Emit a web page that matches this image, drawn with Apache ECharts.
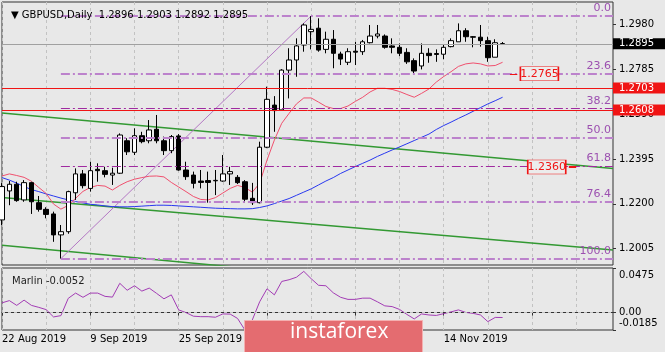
<!DOCTYPE html>
<html>
<head>
<meta charset="utf-8">
<script src="https://cdn.jsdelivr.net/npm/echarts@6/dist/echarts.min.js"></script>
<style>
  html, body { margin: 0; padding: 0; background: #e8e8e8; }
  #chart { width: 665px; height: 352px; }
</style>
</head>
<body>
<div id="chart"></div>
<script>
const dates = ['22 Aug 2019','23 Aug 2019','26 Aug 2019','27 Aug 2019','28 Aug 2019','29 Aug 2019','30 Aug 2019',
  '2 Sep 2019','3 Sep 2019','4 Sep 2019','5 Sep 2019','6 Sep 2019','9 Sep 2019','10 Sep 2019','11 Sep 2019','12 Sep 2019',
  '13 Sep 2019','16 Sep 2019','17 Sep 2019','18 Sep 2019','19 Sep 2019','20 Sep 2019','23 Sep 2019','24 Sep 2019',
  '25 Sep 2019','26 Sep 2019','27 Sep 2019','30 Sep 2019','1 Oct 2019','2 Oct 2019','3 Oct 2019','4 Oct 2019',
  '7 Oct 2019','8 Oct 2019','9 Oct 2019','10 Oct 2019','11 Oct 2019','14 Oct 2019','15 Oct 2019','16 Oct 2019',
  '17 Oct 2019','18 Oct 2019','21 Oct 2019','22 Oct 2019','23 Oct 2019','24 Oct 2019','25 Oct 2019','28 Oct 2019',
  '29 Oct 2019','30 Oct 2019','31 Oct 2019','1 Nov 2019','4 Nov 2019','5 Nov 2019','6 Nov 2019','7 Nov 2019',
  '8 Nov 2019','11 Nov 2019','12 Nov 2019','13 Nov 2019','14 Nov 2019','15 Nov 2019','18 Nov 2019','19 Nov 2019',
  '20 Nov 2019','21 Nov 2019','22 Nov 2019','25 Nov 2019','26 Nov 2019'];
const emptySlots = 15; // free space on the right of the last bar

const opens  = [1.2130,1.2256,1.2285,1.2217,1.2292,1.2205,1.2176,1.2156,1.2065,1.2079,1.2248,1.2330,1.2267,1.2350,1.2344,1.2325,
  1.2333,1.2474,1.2424,1.2496,1.2474,1.2524,1.2474,1.2431,1.2495,1.2347,1.2325,1.2299,1.2301,1.2300,1.2299,1.2330,
  1.2315,1.2296,1.2224,1.2205,1.2446,1.2629,1.2608,1.2781,1.2825,1.2890,1.2948,1.2963,1.2871,1.2915,1.2851,1.2815,
  1.2863,1.2861,1.2900,1.2929,1.2929,1.2886,1.2880,1.2858,1.2822,1.2799,1.2854,1.2853,1.2850,1.2883,1.2904,1.2952,
  1.2926,1.2924,1.2909,1.2837,1.2896];
const closes = [1.2275,1.2285,1.2214,1.2292,1.2209,1.2176,1.2154,1.2065,1.2079,1.2253,1.2330,1.2279,1.2344,1.2344,1.2328,1.2333,
  1.2499,1.2426,1.2496,1.2470,1.2521,1.2474,1.2431,1.2492,1.2347,1.2318,1.2289,1.2293,1.2293,1.2302,1.2330,1.2340,
  1.2292,1.2220,1.2205,1.2446,1.2654,1.2605,1.2781,1.2825,1.2886,1.2977,1.2958,1.2868,1.2915,1.2854,1.2829,1.2861,
  1.2859,1.2904,1.2929,1.2938,1.2880,1.2880,1.2854,1.2817,1.2777,1.2854,1.2844,1.2849,1.2880,1.2909,1.2952,1.2926,
  1.2924,1.2909,1.2835,1.2900,1.2895];
const lows   = [1.2108,1.2194,1.2209,1.2209,1.2156,1.2166,1.2137,1.2035,1.1962,1.2070,1.2217,1.2267,1.2253,1.2296,1.2315,1.2282,
  1.2330,1.2412,1.2412,1.2463,1.2463,1.2463,1.2412,1.2420,1.2344,1.2304,1.2267,1.2267,1.2205,1.2238,1.2296,1.2282,
  1.2286,1.2205,1.2195,1.2202,1.2442,1.2513,1.2605,1.2658,1.2752,1.2861,1.2871,1.2861,1.2854,1.2789,1.2803,1.2803,
  1.2803,1.2847,1.2897,1.2919,1.2874,1.2854,1.2842,1.2808,1.2767,1.2784,1.2813,1.2817,1.2828,1.2880,1.2904,1.2904,
  1.2880,1.2883,1.2817,1.2837,1.2892];
const highs  = [1.2290,1.2299,1.2296,1.2303,1.2296,1.2234,1.2185,1.2166,1.2108,1.2257,1.2354,1.2347,1.2383,1.2376,1.2361,1.2357,
  1.2506,1.2485,1.2528,1.2513,1.2564,1.2586,1.2492,1.2499,1.2503,1.2383,1.2340,1.2347,1.2340,1.2347,1.2412,1.2361,
  1.2325,1.2303,1.2291,1.2470,1.2709,1.2668,1.2785,1.2876,1.2919,1.2984,1.3016,1.3006,1.2948,1.2955,1.2861,1.2876,
  1.2904,1.2912,1.2977,1.2977,1.2936,1.2919,1.2897,1.2876,1.2832,1.2897,1.2876,1.2871,1.2890,1.2919,1.2984,1.2963,
  1.2929,1.2977,1.2926,1.2915,1.2903];

const fastMa = [1.2321,1.2330,1.2323,1.2315,1.2298,1.2271,1.2245,1.2199,1.2177,1.2193,1.2224,1.2254,1.2271,1.2280,1.2277,1.2260,
  1.2280,1.2296,1.2307,1.2314,1.2320,1.2321,1.2317,1.2293,1.2273,1.2253,1.2232,1.2219,1.2217,1.2227,1.2247,1.2267,
  1.2280,1.2271,1.2251,1.2289,1.2390,1.2477,1.2550,1.2593,1.2634,1.2660,1.2660,1.2642,1.2623,1.2614,1.2614,1.2625,
  1.2645,1.2663,1.2686,1.2702,1.2702,1.2697,1.2688,1.2675,1.2663,1.2680,1.2699,1.2729,1.2753,1.2774,1.2797,1.2808,
  1.2812,1.2808,1.2799,1.2801,1.2815];
const slowMa = [1.2314,1.2303,1.2290,1.2275,1.2262,1.2253,1.2243,1.2234,1.2225,1.2217,1.2210,1.2204,1.2198,1.2195,1.2191,1.2188,
  1.2187,1.2187,1.2188,1.2190,1.2192,1.2194,1.2194,1.2193,1.2191,1.2189,1.2187,1.2185,1.2183,1.2181,1.2180,1.2179,
  1.2178,1.2178,1.2179,1.2184,1.2191,1.2201,1.2212,1.2223,1.2237,1.2251,1.2265,1.2282,1.2299,1.2314,1.2332,1.2347,
  1.2362,1.2376,1.2390,1.2406,1.2420,1.2434,1.2447,1.2461,1.2475,1.2489,1.2503,1.2523,1.2540,1.2555,1.2571,1.2586,
  1.2602,1.2618,1.2634,1.2648,1.2663];
const marlin = [0.0104,0.0128,0.0077,0.0133,0.0077,0.0056,0.0032,-0.0046,-0.0032,0.0152,0.0208,0.0163,0.0208,0.0208,0.0173,0.0165,
  0.0312,0.0238,0.0286,0.0229,0.0261,0.0205,0.0147,0.0189,0.0029,0.0000,-0.0038,-0.0043,-0.0043,-0.0049,-0.0014,-0.0016,
  -0.0062,-0.0185,-0.0078,0.0115,0.0254,0.0189,0.0332,0.0350,0.0377,0.0439,0.0361,0.0291,0.0286,0.0211,0.0163,0.0141,
  0.0141,0.0154,0.0154,0.0115,0.0072,0.0064,0.0034,-0.0019,-0.0067,-0.0014,-0.0025,-0.0030,-0.0011,0.0008,0.0029,0.0002,
  -0.0008,-0.0025,-0.0096,-0.0051,-0.0052];

const priceTicks = [1.2980, 1.2785, 1.2590, 1.2395, 1.2200, 1.2005];
const marlinTicks = [0.0475, 0, -0.0185];
const fibLevels = [0, 23.6, 38.2, 50, 61.8, 76.4, 100];
const fibLow = 1.1962, fibHigh = 1.3016;
const fibFrom = 8, fibTo = 42;      // bars of the swing low / high
const bidPrice = 1.2895;
const redLevels = [1.2703, 1.2608];
const priceTags = [1.2765, 1.2360];
// channel lines: value at first slot and at last slot
const channels = [[1.2595, 1.2354], [1.2227, 1.1999], [1.2020, 1.1771]];

const cats = dates.concat(new Array(emptySlots).fill(''));
const last = cats.length - 1;
const candles = opens.map((o, i) => [o, closes[i], lows[i], highs[i]]);

const chart = echarts.init(document.getElementById('chart'));
const FONT = 'DejaVu Sans';
const gridLine = { show: true, interval: 5, lineStyle: { color: '#c2c2c2', type: [3, 3], width: 1 } };

const fibLines = fibLevels.map(l => {
  const p = fibHigh - (fibHigh - fibLow) * l / 100;
  const dark = l === 38.2 || l === 61.8;
  return [{
    coord: [fibFrom, p], name: l.toFixed(1),
    lineStyle: { color: dark ? '#a02aa0' : '#bc82cc', width: dark ? 1 : 2, type: [9, 3, 2, 3] },
    label: { show: true, position: 'insideEndTop', distance: 2, formatter: '{b}', color: '#9c50b0', fontSize: 11, fontFamily: FONT }
  }, { coord: [last, p] }];
});

const sideLabel = (v, bg) => ({
  show: true, position: 'end', distance: 0, formatter: v.toFixed(4),
  backgroundColor: bg, color: '#fff', padding: [1, 12, 0, 6], fontSize: 10, fontFamily: FONT
});

const option = {
  animation: false,
  backgroundColor: '#e8e8e8',
  textStyle: { fontFamily: FONT },
  title: [
    { text: '\u25BC GBPUSD,Daily  1.2896 1.2903 1.2892 1.2895', left: 6, top: 5,
      textStyle: { fontSize: 10, fontWeight: 'normal', color: '#000', fontFamily: FONT } },
    { text: 'Marlin -0.0052', left: 7, top: 271,
      textStyle: { fontSize: 10, fontWeight: 'normal', color: '#222', fontFamily: FONT } }
  ],
  grid: [
    { left: 2, top: 2, width: 611, height: 263, show: true, borderColor: '#333', borderWidth: 1, outerBoundsMode: 'none' },
    { left: 2, top: 268, width: 611, height: 62, show: true, borderColor: '#333', borderWidth: 1, outerBoundsMode: 'none' }
  ],
  xAxis: [
    { type: 'category', gridIndex: 0, data: cats, boundaryGap: false,
      axisLine: { show: false }, axisTick: { show: false }, axisLabel: { show: false }, splitLine: gridLine },
    { type: 'category', gridIndex: 1, data: cats, boundaryGap: false,
      axisLine: { show: true, lineStyle: { color: '#333' } },
      axisTick: { show: true, interval: 11, length: 3, lineStyle: { color: '#333' } },
      axisLabel: { interval: 11, align: 'left', margin: 4, color: '#000', fontSize: 10, fontFamily: FONT },
      splitLine: gridLine }
  ],
  yAxis: [
    { type: 'value', gridIndex: 0, position: 'right', min: 1.19342, max: 1.30769,
      axisLine: { show: false }, splitLine: { show: false },
      axisTick: { show: true, customValues: priceTicks, length: 3, lineStyle: { color: '#333' } },
      axisLabel: { customValues: priceTicks, margin: 6, color: '#000', fontSize: 10, fontFamily: FONT,
        formatter: v => v.toFixed(4) } },
    { type: 'value', gridIndex: 1, position: 'right', min: -0.0185, max: 0.0475,
      axisLine: { show: false }, splitLine: { show: false },
      axisTick: { show: true, customValues: marlinTicks, length: 3, lineStyle: { color: '#333' } },
      axisLabel: { customValues: marlinTicks, margin: 6, color: '#000', fontSize: 10, fontFamily: FONT,
        formatter: v => v > 0.01 ? '{t|' + v.toFixed(4) + '}' : v < -0.01 ? '{b|' + v.toFixed(4) + '}' : '{n|0.00}',
        rich: { t: { padding: [15, 0, 0, 0] }, b: { padding: [0, 0, 13, 0] }, n: {} } } }
  ],
  series: [
    { type: 'line', xAxisIndex: 0, yAxisIndex: 0, data: channels[0].map((v, i) => [i ? last : 0, v]),
      showSymbol: false, lineStyle: { color: '#339933', width: 1.5 }, z: 1 },
    { type: 'line', xAxisIndex: 0, yAxisIndex: 0, data: channels[1].map((v, i) => [i ? last : 0, v]),
      showSymbol: false, lineStyle: { color: '#339933', width: 1.5 }, z: 1 },
    { type: 'line', xAxisIndex: 0, yAxisIndex: 0, data: channels[2].map((v, i) => [i ? last : 0, v]),
      showSymbol: false, lineStyle: { color: '#339933', width: 1.5 }, z: 1 },
    { type: 'line', xAxisIndex: 0, yAxisIndex: 0, data: [[fibFrom, fibLow], [fibTo, fibHigh]],
      showSymbol: false, lineStyle: { color: '#b478c4', width: 1 }, z: 1 },
    { type: 'line', xAxisIndex: 0, yAxisIndex: 0, data: [], clip: false, z: 2,
      markLine: {
        silent: true, symbol: ['none', 'none'], precision: 4,
        data: [
          ...fibLines,
          { yAxis: bidPrice, lineStyle: { color: '#a0a0a0', type: 'solid', width: 1 }, label: sideLabel(bidPrice, '#000') },
          ...redLevels.map(v => ({ yAxis: v, lineStyle: { color: '#f01414', type: 'solid', width: 1 }, label: sideLabel(v, '#f01414') })),
          [{ coord: [69, priceTags[0]], lineStyle: { color: '#f01414', type: 'solid', width: 1 }, label: { show: false } }, { coord: [70.4, priceTags[0]] }],
          [{ coord: [76.9, priceTags[1]], lineStyle: { color: '#f01414', type: 'solid', width: 2 }, label: { show: false } }, { coord: [78.2, priceTags[1]] }]
        ]
      },
      markPoint: {
        silent: true,
        data: [
          { coord: [72.7, priceTags[0]], value: priceTags[0] },
          { coord: [74.2, priceTags[1]], value: priceTags[1] }
        ],
        symbol: 'rect', symbolSize: [38, 14],
        itemStyle: { color: '#ececec', borderColor: '#f01414', borderWidth: 1 },
        label: { show: true, position: 'inside', color: '#f01414', fontSize: 11, fontFamily: FONT,
          formatter: p => p.value.toFixed(4) }
      }
    },
    { type: 'line', xAxisIndex: 0, yAxisIndex: 0, data: slowMa, showSymbol: false,
      lineStyle: { color: '#2838f0', width: 1 }, z: 3 },
    { type: 'line', xAxisIndex: 0, yAxisIndex: 0, data: fastMa, showSymbol: false,
      lineStyle: { color: '#f0506e', width: 1 }, z: 3 },
    { type: 'candlestick', xAxisIndex: 0, yAxisIndex: 0, data: candles, barWidth: 5, z: 4,
      itemStyle: { color: '#ffffff', color0: '#000000', borderColor: '#000000', borderColor0: '#000000', borderWidth: 1 } },
    { type: 'line', xAxisIndex: 1, yAxisIndex: 1, data: marlin, showSymbol: false,
      lineStyle: { color: '#a23cb4', width: 1 }, z: 3,
      markLine: { silent: true, symbol: ['none', 'none'], label: { show: false },
        data: [{ yAxis: 0 }], lineStyle: { color: '#c2c2c2', type: [3, 3], width: 1 } } }
  ],
  graphic: [
    { type: 'rect', left: 244, top: 320, z: 100, zlevel: 1,
      shape: { width: 178, height: 36 },
      style: { fill: '#e46c70', stroke: '#f4b0b0', lineWidth: 1 } },
    { type: 'text', left: 290, top: 322, z: 101, zlevel: 1,
      style: { text: 'instaforex', fill: '#ffffff', font: '21px "Open Sans"' } }
  ]
};

chart.setOption(option);
window.addEventListener('resize', () => chart.resize());
</script>
</body>
</html>
